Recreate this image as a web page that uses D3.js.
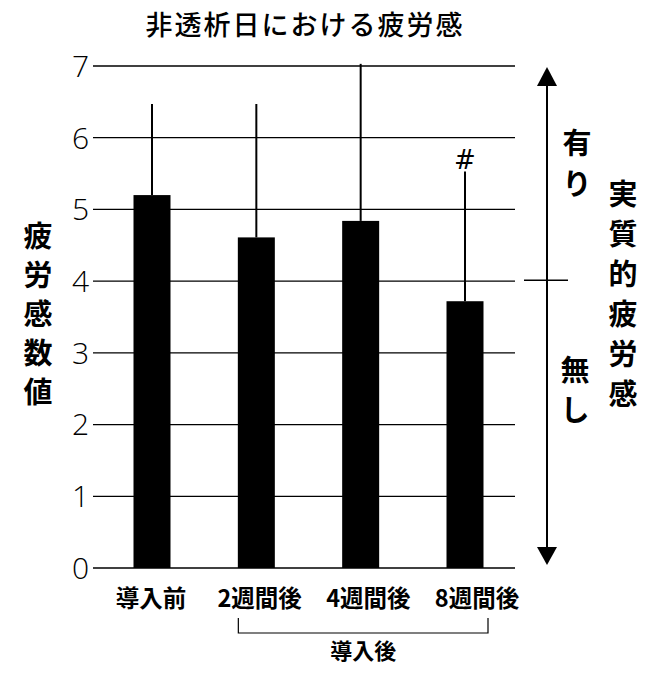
<!DOCTYPE html>
<html><head><meta charset="utf-8">
<script src="https://cdn.jsdelivr.net/npm/d3@7"></script>
<style>
html,body{margin:0;padding:0;background:#fff;}
svg{display:block;}
.cjk{font-family:"Noto Sans CJK JP","Noto Sans CJK SC",sans-serif;}
</style></head>
<body>
<svg id="c" width="661" height="677"></svg>
<script>
const title = "非透析日における疲労感";
const categories = ["導入前", "2週間後", "4週間後", "8週間後"];
const means = [5.2, 4.61, 4.84, 3.72];
const errors = [1.27, 1.86, 2.19, 1.81];
const marks = ["", "", "", "#"];
const yTicks = [0, 1, 2, 3, 4, 5, 6, 7];
const yLabel = "疲労感数値";
const rightLabel = "実質的疲労感";
const upLabel = "有り";
const downLabel = "無し";
const groupLabel = "導入後";
const groupMembers = ["2週間後", "8週間後"];
const thresholdValue = 4;

const svg = d3.select("#c");
const y = d3.scaleLinear().domain([0, 7]).range([568, 66]);
const x = d3.scalePoint().domain(categories).range([152, 465]);
const xl = d3.scalePoint().domain(categories).range([151, 477]);
const barW = 37;
const gx0 = 93, gx1 = 515;

// title
svg.append("text").attr("class","cjk").attr("x", 305).attr("y", 35)
  .attr("text-anchor","middle").attr("font-size", 27).attr("font-weight", 500)
  .attr("letter-spacing", 2).text(title);

// gridlines
svg.append("g").selectAll("line").data(yTicks).join("line")
  .attr("x1", gx0).attr("x2", gx1).attr("y1", d => y(d)).attr("y2", d => y(d))
  .attr("stroke", "#000").attr("stroke-width", 1.3);

// tick labels
svg.append("g").selectAll("text").data(yTicks).join("text")
  .attr("x", 89).attr("y", d => y(d)).attr("dy", "0.36em")
  .attr("text-anchor","end").attr("font-family","'Open Sans',sans-serif")
  .attr("font-weight", 300).attr("font-size", 30).text(d => d);

// error bars
svg.append("g").selectAll("line").data(categories).join("line")
  .attr("x1", d => x(d)).attr("x2", d => x(d))
  .attr("y1", (d,i) => y(means[i])).attr("y2", (d,i) => y(means[i] + errors[i]))
  .attr("stroke", "#000").attr("stroke-width", 2);

// bars
svg.append("g").selectAll("rect").data(categories).join("rect")
  .attr("x", d => x(d) - barW/2).attr("width", barW)
  .attr("y", (d,i) => y(means[i])).attr("height", (d,i) => y(0) - y(means[i]))
  .attr("fill", "#000");

// significance marks
svg.append("g").selectAll("text").data(categories).join("text")
  .attr("x", d => x(d)).attr("y", (d,i) => y(means[i] + errors[i]) - 2)
  .attr("text-anchor","middle").attr("font-family","'DejaVu Sans',sans-serif")
  .attr("font-size", 26).text((d,i) => marks[i]);

// category labels
svg.append("g").selectAll("text").data(categories).join("text")
  .attr("class","cjk").attr("x", d => xl(d)).attr("y", 607)
  .attr("text-anchor","middle").attr("font-size", 23.5).attr("font-weight", 700)
  .text(d => d);

// bracket
const bx0 = x(groupMembers[0]) - 18, bx1 = x(groupMembers[1]) + 23;
svg.append("path")
  .attr("d", `M${bx0},618 V633 H${bx1} V618`)
  .attr("fill","none").attr("stroke","#000").attr("stroke-width",1.2);
svg.append("text").attr("class","cjk").attr("x", (bx0+bx1)/2).attr("y", 659)
  .attr("text-anchor","middle").attr("font-size", 22).attr("font-weight", 700)
  .text(groupLabel);

// right arrow
const ax = 547;
svg.append("line").attr("x1", ax).attr("x2", ax).attr("y1", y(7) + 15).attr("y2", y(0) - 15)
  .attr("stroke","#000").attr("stroke-width",2);
svg.append("path").attr("d", `M${ax},${y(7)+1} L${ax-10},${y(7)+20} L${ax+10},${y(7)+20} Z`).attr("fill","#000");
svg.append("path").attr("d", `M${ax},${y(0)-3} L${ax-10},${y(0)-21} L${ax+10},${y(0)-21} Z`).attr("fill","#000");
svg.append("line").attr("x1", 524).attr("x2", 568).attr("y1", y(thresholdValue) - 1).attr("y2", y(thresholdValue) - 1)
  .attr("stroke","#000").attr("stroke-width",1.5);

// vertical labels
function vtext(str, cx, cy0, pitch, size) {
  svg.append("g").selectAll("text").data(Array.from(str)).join("text")
    .attr("class","cjk").attr("x", cx).attr("y", (d,i) => cy0 + i*pitch)
    .attr("dy","0.36em").attr("text-anchor","middle")
    .attr("font-size", size).attr("font-weight", 700).text(d => d);
}
vtext(yLabel, 38, 237, 39, 29);
vtext(upLabel, 577, 144, 41, 29);
vtext(downLabel, 575, 371, 40, 29);
vtext(rightLabel, 623, 195, 40, 29);
</script>
</body></html>
